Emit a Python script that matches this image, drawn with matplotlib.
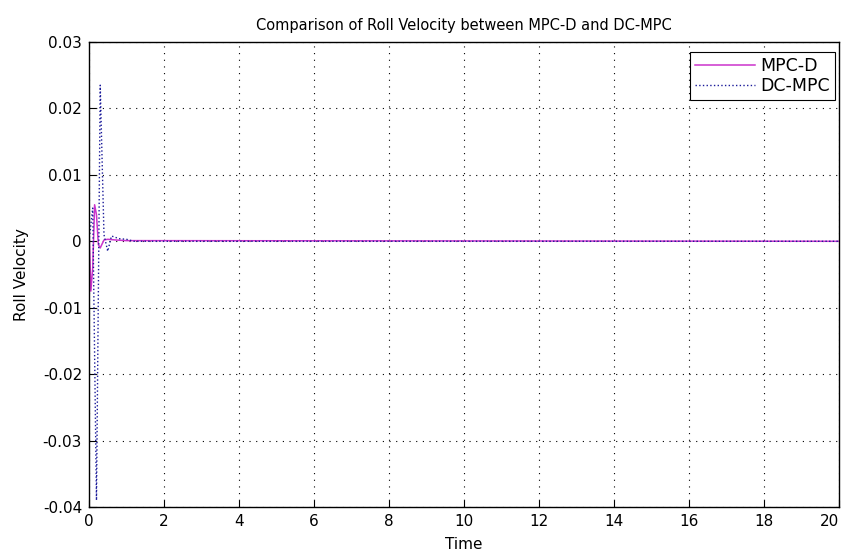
import matplotlib
matplotlib.use("Agg")
import matplotlib.pyplot as plt

# MPC-D response, settles to zero after ~1 s
t_mpcd = [0, 0.05, 0.1, 0.15, 0.2, 0.25, 0.3, 0.4, 0.5, 0.7, 1.0, 20]
v_mpcd = [0.002, -0.0075, -0.004, 0.0055, 0.004, -0.0005, -0.001, 0.0002, 0.0003, 0.0002, 0.0001, 0.0]

# DC-MPC response
t_dcmpc = [0, 0.1, 0.2, 0.3, 0.4, 0.5, 0.6, 0.8, 1.0, 1.2, 20]
v_dcmpc = [0.0, 0.005, -0.039, 0.0235, 0.001, -0.0015, 0.0008, 0.0004, 0.0003, 0.0, 0.0]

xticks = list(range(0, 21, 2))
yticks = [-0.04, -0.03, -0.02, -0.01, 0, 0.01, 0.02, 0.03]
ytick_labels = ["-0.04", "-0.03", "-0.02", "-0.01", "0", "0.01", "0.02", "0.03"]

plt.rcParams['font.family'] = ['DejaVu Sans']

fig = plt.figure(figsize=(8.45, 5.55), dpi=100)
ax = fig.add_axes([0.1053, 0.0865, 0.8876, 0.8378])

ax.plot(t_mpcd, v_mpcd, color='#cc33cc', lw=1.1, label='MPC-D')
ax.plot(t_dcmpc, v_dcmpc, color='#1a1a99', lw=1.0, ls=':', label='DC-MPC')

ax.set_xlim(0, 20)
ax.set_ylim(-0.04, 0.03)
ax.set_xticks(xticks)
ax.set_yticks(yticks)
ax.set_yticklabels(ytick_labels)
ax.tick_params(direction='in', length=5, labelsize=11, colors='black', pad=5)
ax.xaxis.get_ticklabels()[-1].set_horizontalalignment('right')
ax.grid(True, ls=(0, (1, 5)), color='black', lw=0.8)
for s in ax.spines.values():
    s.set_linewidth(1.0)

ax.set_title('Comparison of Roll Velocity between MPC-D and DC-MPC', fontsize=10.5, pad=9)
ax.set_xlabel('Time', fontsize=11, labelpad=6)
ax.set_ylabel('Roll Velocity', fontsize=11, labelpad=10)

leg = ax.legend(loc='upper right', bbox_to_anchor=(0.995, 0.978), fontsize=12.5,
                fancybox=False, edgecolor='black', framealpha=1, handlelength=3.45,
                borderaxespad=0, borderpad=0.3, labelspacing=0.1, handletextpad=0.3)
leg.get_frame().set_linewidth(0.8)

fig.savefig('out.png', dpi=100)
